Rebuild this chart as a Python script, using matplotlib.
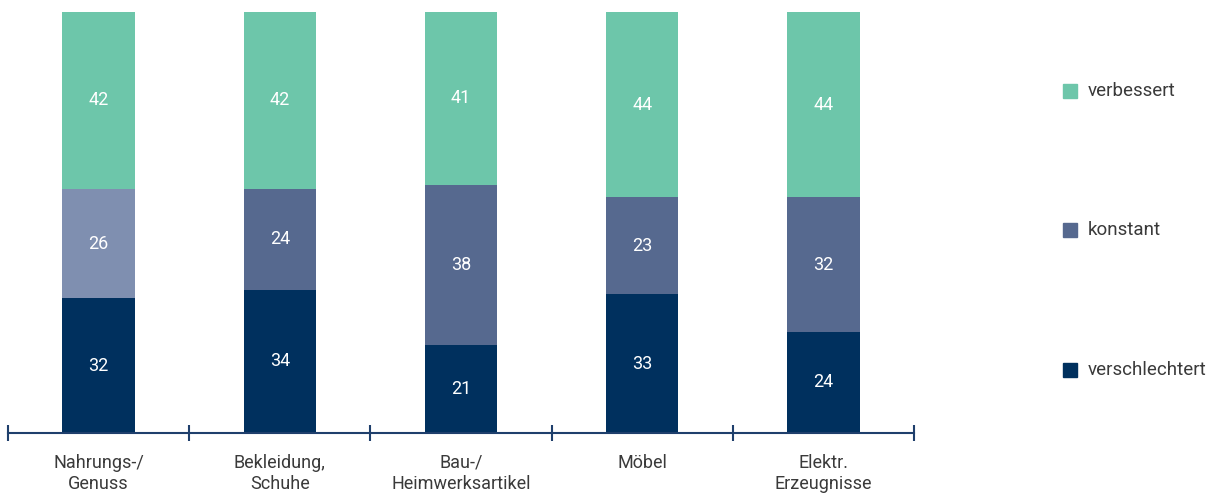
import matplotlib
matplotlib.use("Agg")
import matplotlib.pyplot as plt
from matplotlib.patches import Rectangle

categories = ["Nahrungs-/\nGenuss", "Bekleidung,\nSchuhe", "Bau-/\nHeimwerksartikel", "Möbel", "Elektr.\nErzeugnisse"]
verschlechtert = [32, 34, 21, 33, 24]
konstant = [26, 24, 38, 23, 32]
verbessert = [42, 42, 41, 44, 44]

c_schlecht = "#00305E"
c_konst = "#56698F"
c_konst_hl = "#7F8FB0"
c_besser = "#6DC6AA"
axis_color = "#1F3F6C"
text_color = "#3A3A3A"

plt.rcParams['font.family'] = ['Roboto', 'DejaVu Sans']

fig = plt.figure(figsize=(12.22, 4.95), dpi=100)
ax = fig.add_axes([8 / 1222, 1 - 433 / 495, 906 / 1222, 421 / 495])

x = list(range(len(categories)))
w = 0.40
konst_colors = [c_konst_hl] + [c_konst] * (len(categories) - 1)
b1 = ax.bar(x, verschlechtert, w, color=c_schlecht)
b2 = ax.bar(x, konstant, w, bottom=verschlechtert, color=konst_colors)
bottom3 = [a + b for a, b in zip(verschlechtert, konstant)]
b3 = ax.bar(x, verbessert, w, bottom=bottom3, color=c_besser)

# white value labels in the middle of each segment
for bars, vals, bots in [(b1, verschlechtert, [0] * 5), (b2, konstant, verschlechtert), (b3, verbessert, bottom3)]:
    for bar, v, b in zip(bars, vals, bots):
        ax.text(bar.get_x() + bar.get_width() / 2, b + v / 2, str(v),
                ha="center", va="center", color="white", fontsize=13)

ax.set_xlim(-0.5, len(categories) - 0.5)
ax.set_ylim(0, 100)
for s in ["top", "right", "left"]:
    ax.spines[s].set_visible(False)
ax.spines["bottom"].set_color(axis_color)
ax.spines["bottom"].set_linewidth(1.5)
ax.set_yticks([])
ax.set_xticks(x)
ax.set_xticklabels(categories, fontsize=13, color=text_color, linespacing=1.25)
ax.tick_params(axis="x", which="major", length=0, pad=15)
ax.set_xticks([i - 0.5 for i in range(len(categories) + 1)], minor=True)
ax.tick_params(axis="x", which="minor", length=12, width=1.5, color=axis_color, direction="inout")

# legend on the right
legend_items = [("verbessert", c_besser, 91), ("konstant", c_konst, 230), ("verschlechtert", c_schlecht, 370)]
for label, col, ypix in legend_items:
    fig.patches.append(Rectangle((1063 / 1222, 1 - (ypix + 7) / 495), 14 / 1222, 14 / 495,
                                 transform=fig.transFigure, color=col))
    fig.text(1088 / 1222, 1 - ypix / 495, label, fontsize=13.5, color=text_color, va="center", ha="left")

fig.savefig("out.png", dpi=100)
